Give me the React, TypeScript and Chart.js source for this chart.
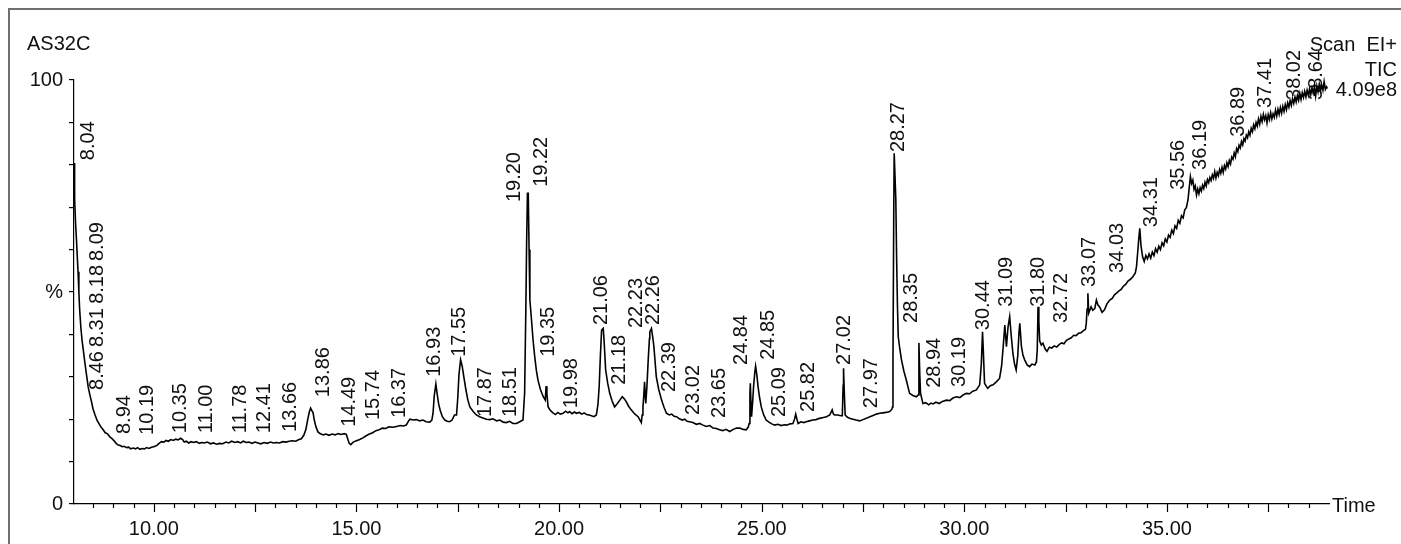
import { useEffect, useRef } from 'react';
import { Chart, registerables } from 'chart.js';

Chart.register(...registerables);

// Total ion chromatogram: [retention time (min), relative intensity (%)]
const traceEarly: [number, number][] = [
  [8.03, 80.4], [8.04, 80.4], [8.05, 72], [8.07, 66], [8.09, 62.5], [8.11, 58.5], [8.13, 54.8], [8.15, 50],
  [8.17, 45.8], [8.2, 41.5], [8.23, 38.5], [8.26, 36.3], [8.3, 33.2], [8.34, 30.4], [8.38, 27.6], [8.42, 25.8],
  [8.46, 24.2], [8.5, 22.4], [8.55, 21.0], [8.6, 19.7], [8.65, 18.9], [8.7, 18.1], [8.75, 17.5], [8.8, 16.8],
  [8.85, 16.6], [8.91, 15.9], [8.96, 15.5], [9.02, 14.9], [9.07, 14.3], [9.12, 13.9], [9.17, 13.8], [9.22, 13.5],
  [9.27, 13.6], [9.33, 13.3], [9.38, 13.4], [9.43, 13.0], [9.49, 13.2], [9.55, 13.0], [9.6, 13.3], [9.66, 12.9],
  [9.71, 13.1], [9.77, 13.0], [9.82, 13.3], [9.88, 13.1], [9.94, 13.4], [10.0, 13.5], [10.07, 13.8], [10.13, 14.3],
  [10.19, 14.7], [10.25, 14.6], [10.3, 15.0], [10.36, 14.8], [10.42, 15.2], [10.48, 15.0], [10.54, 15.3], [10.6, 15.1],
  [10.66, 15.5], [10.71, 15.2], [10.75, 14.6], [10.8, 14.8], [10.86, 14.4], [10.92, 14.7], [10.98, 14.5], [11.05, 14.7],
  [11.12, 14.3], [11.18, 14.5], [11.25, 14.4], [11.32, 14.6], [11.4, 14.2], [11.47, 14.4], [11.55, 14.1], [11.62, 14.3],
  [11.7, 14.2], [11.78, 14.6], [11.85, 14.4], [11.92, 14.8], [12.0, 14.5], [12.07, 14.7], [12.14, 14.4], [12.21, 14.8],
  [12.28, 14.5], [12.35, 14.6], [12.42, 14.3], [12.5, 14.6], [12.57, 14.4], [12.64, 14.2], [12.72, 14.5], [12.8, 14.3],
  [12.88, 14.6], [12.95, 14.4], [13.02, 14.5], [13.1, 14.4], [13.18, 14.7], [13.26, 14.6], [13.34, 14.8], [13.42, 14.9],
  [13.5, 14.8], [13.58, 15.2], [13.64, 15.4], [13.7, 16.2], [13.75, 17.5], [13.8, 20.0], [13.84, 21.8], [13.87, 22.6],
  [13.9, 22.0], [13.93, 21.5], [13.96, 19.8], [14.0, 18.2], [14.05, 17.0], [14.1, 16.6], [14.18, 16.3], [14.25, 16.5],
  [14.32, 16.2], [14.4, 16.5], [14.47, 16.3], [14.55, 16.6], [14.62, 16.4], [14.7, 16.6], [14.75, 16.4], [14.78, 15.5],
  [14.82, 14.3], [14.86, 14.0], [14.92, 14.6], [15.0, 14.9], [15.08, 15.2], [15.16, 15.6], [15.24, 16.1], [15.32, 16.5],
  [15.4, 16.8], [15.48, 17.3], [15.56, 17.5], [15.64, 17.9], [15.72, 17.8], [15.8, 18.2], [15.9, 18.1], [15.99, 18.3],
];

const traceMiddle: [number, number][] = [
  [16.08, 18.5], [16.16, 18.4], [16.23, 18.6], [16.28, 19.5], [16.32, 20.0], [16.4, 19.8], [16.48, 19.9], [16.56, 19.6],
  [16.64, 19.8], [16.72, 19.4], [16.81, 19.3], [16.86, 19.8], [16.89, 21.4], [16.92, 25.5], [16.96, 28.3], [16.99, 26.1],
  [17.03, 23.5], [17.07, 22.0], [17.12, 20.6], [17.18, 19.8], [17.24, 19.5], [17.3, 19.4], [17.36, 19.8], [17.42, 21.0],
  [17.47, 21.0], [17.5, 25.0], [17.53, 30.5], [17.57, 34.0], [17.61, 32.5], [17.65, 30.0], [17.7, 27.0], [17.75, 24.5],
  [17.8, 22.9], [17.88, 21.8], [17.96, 21.0], [18.04, 20.6], [18.12, 20.3], [18.21, 20.0], [18.29, 19.9], [18.37, 20.1],
  [18.46, 19.6], [18.54, 19.8], [18.62, 19.3], [18.7, 19.2], [18.78, 19.5], [18.86, 19.0], [18.95, 19.0], [19.03, 19.4],
  [19.11, 19.8], [19.15, 26.1], [19.18, 45.8], [19.2, 62], [19.22, 73.3], [19.24, 73.3], [19.26, 60], [19.28, 48.1],
  [19.32, 43.4], [19.36, 38.5], [19.4, 34.7], [19.44, 31.5], [19.48, 29.2], [19.54, 27.0], [19.61, 25.3], [19.66, 24.5],
  [19.68, 27.8], [19.7, 26.0], [19.73, 22.9], [19.79, 22.0], [19.85, 21.5], [19.91, 21.1], [19.97, 21.6], [20.03, 21.2],
  [20.1, 21.4], [20.16, 21.9], [20.22, 21.5], [20.26, 21.8], [20.32, 21.3], [20.38, 21.7], [20.43, 21.4], [20.5, 21.6],
  [20.56, 21.2], [20.62, 21.5], [20.68, 21.1], [20.74, 21.0], [20.8, 20.8], [20.86, 20.6], [20.92, 21.0], [20.96, 23.5],
  [20.99, 27.7], [21.02, 35.0], [21.05, 41.0], [21.09, 41.4], [21.11, 38.7], [21.15, 31.6], [21.2, 28.5], [21.25, 26.1],
  [21.31, 24.3], [21.37, 22.9], [21.43, 23.6], [21.5, 24.5], [21.56, 25.3], [21.61, 24.8], [21.66, 24.1], [21.72, 23.0],
  [21.78, 22.2], [21.86, 21.3], [21.95, 20.6], [22.03, 19.2], [22.05, 21.0], [22.07, 22.9], [22.09, 25.5], [22.11, 28.8],
  [22.13, 25.0], [22.14, 23.7], [22.17, 28.0], [22.2, 34.0], [22.23, 39.0], [22.24, 40.6], [22.28, 41.4], [22.31, 39.5],
  [22.34, 37.1], [22.4, 30.0], [22.46, 27.0], [22.53, 24.5], [22.59, 22.8], [22.65, 21.4], [22.72, 21.0], [22.78, 21.2],
  [22.84, 20.7], [22.9, 20.6], [22.97, 20.1],
];

const traceLate: [number, number][] = [
  [23.04, 19.8], [23.1, 20.0], [23.16, 19.5], [23.22, 19.4], [23.3, 19.2], [23.39, 18.8], [23.47, 19.0], [23.55, 18.6],
  [23.63, 18.3], [23.72, 18.5], [23.8, 17.9], [23.88, 17.8], [23.96, 17.5], [24.04, 17.3], [24.12, 17.6], [24.21, 17.1],
  [24.3, 17.6], [24.38, 17.9], [24.46, 17.9], [24.54, 17.6], [24.62, 17.5], [24.67, 18.2], [24.69, 19.0], [24.71, 26.0],
  [24.72, 28.5], [24.74, 22.5], [24.75, 20.6], [24.78, 24.5], [24.8, 27.7], [24.83, 31.0], [24.85, 32.5], [24.88, 30.5],
  [24.91, 27.7], [24.95, 25.0], [24.99, 22.9], [25.05, 21.0], [25.11, 19.8], [25.18, 19.3], [25.25, 18.9], [25.32, 18.6],
  [25.4, 18.8], [25.48, 18.5], [25.56, 18.7], [25.62, 18.6], [25.7, 18.9], [25.77, 19.0], [25.81, 20.0], [25.84, 21.2],
  [25.87, 20.0], [25.9, 19.0], [25.97, 19.4], [26.04, 19.2], [26.1, 19.4], [26.18, 19.6], [26.26, 19.8], [26.34, 19.9],
  [26.43, 20.2], [26.52, 20.4], [26.6, 20.6], [26.68, 21.0], [26.72, 21.8], [26.74, 22.2], [26.77, 21.2], [26.8, 21.0],
  [26.88, 21.0], [26.95, 20.8], [26.99, 20.8], [27.01, 28.0], [27.02, 32.0], [27.04, 26.0], [27.06, 21.0], [27.11, 20.5],
  [27.17, 20.2], [27.25, 20.0], [27.33, 19.8], [27.42, 19.6], [27.5, 19.9], [27.58, 20.2], [27.67, 20.6], [27.75, 20.9],
  [27.83, 21.2], [27.91, 21.4], [27.99, 21.5], [28.07, 21.6], [28.16, 21.8], [28.21, 22.3], [28.23, 22.9], [28.24, 33.2],
  [28.26, 70], [28.27, 82.7], [28.29, 82.7], [28.31, 72], [28.33, 58], [28.35, 47], [28.37, 39.5], [28.41, 36.5],
  [28.45, 34.0], [28.51, 31.3], [28.57, 29.2], [28.65, 26.1], [28.73, 25.6], [28.82, 25.3], [28.86, 25.7], [28.88, 38.0],
  [28.9, 31], [28.92, 26.1], [28.98, 23.7], [29.05, 23.9], [29.12, 23.4], [29.18, 23.8], [29.23, 23.6], [29.3, 24.0],
  [29.38, 23.7], [29.46, 24.2], [29.56, 24.5], [29.64, 24.4], [29.72, 25.0], [29.81, 25.3], [29.89, 25.1], [29.97, 25.7],
  [30.05, 26.1], [30.13, 26.0], [30.21, 26.6], [30.3, 26.9], [30.38, 28.1], [30.42, 33], [30.45, 40.6], [30.47, 36],
  [30.5, 28.5], [30.54, 27.8], [30.58, 27.3], [30.64, 27.9], [30.71, 28.1], [30.79, 28.8], [30.87, 29.6], [30.92, 32.5],
  [30.96, 37.1],
];

const traceRise: [number, number][] = [
  [31.0, 42.2], [31.04, 37.1], [31.08, 41.8], [31.12, 44.2], [31.16, 39.5], [31.2, 35.5], [31.24, 33.0], [31.28, 31.6],
  [31.32, 35.0], [31.35, 40.5], [31.37, 42.6], [31.41, 37.1], [31.45, 35.0], [31.49, 34.0], [31.55, 32.8], [31.61, 32.4],
  [31.67, 33.0], [31.74, 32.8], [31.78, 33.5], [31.8, 36.3], [31.82, 46.5], [31.84, 43.0], [31.86, 38.5], [31.9, 37.5],
  [31.94, 37.9], [32.0, 36.5], [32.04, 36.0], [32.1, 37.0], [32.16, 36.8], [32.22, 37.3], [32.28, 37.0], [32.34, 37.6],
  [32.4, 38.0], [32.46, 37.8], [32.52, 38.6], [32.58, 38.9], [32.64, 39.2], [32.7, 39.8], [32.76, 39.7], [32.82, 40.3],
  [32.88, 40.4], [32.94, 40.9], [32.99, 41.2], [33.01, 42.6], [33.03, 46.0], [33.05, 49.7], [33.07, 45.0], [33.09, 45.5],
  [33.13, 46.5], [33.17, 45.7], [33.22, 46.1], [33.26, 48.1], [33.3, 46.9], [33.34, 46.5], [33.4, 45.2], [33.46, 45.8],
  [33.52, 47.2], [33.59, 48.1], [33.65, 48.5], [33.71, 49.4], [33.75, 49.7], [33.81, 50.2], [33.87, 50.6], [33.92, 51.3],
  [33.98, 51.8], [34.04, 52.6], [34.1, 53.0], [34.16, 53.6], [34.22, 54.5], [34.25, 56.0], [34.28, 59.5], [34.31, 63.0],
  [34.33, 65.0], [34.36, 61.0], [34.4, 58.3], [34.44, 57.2], [34.48, 58.6], [34.52, 57.8], [34.56, 59.0], [34.6, 58.0],
  [34.64, 59.4], [34.68, 58.6], [34.72, 60.2], [34.76, 59.4], [34.8, 60.8], [34.84, 60.0], [34.88, 61.6], [34.92, 60.9],
  [34.96, 62.5], [35.0, 61.8], [35.04, 63.4], [35.08, 62.9], [35.12, 64.6], [35.16, 63.8], [35.2, 65.6], [35.24, 65.0],
  [35.28, 66.9], [35.32, 66.2], [35.36, 68.0], [35.4, 67.5], [35.44, 69.4], [35.48, 69.9], [35.52, 71.7], [35.55, 74.5],
  [35.58, 77.2], [35.61, 75.6], [35.64, 76.4], [35.67, 74.2], [35.7, 75.0], [35.73, 72.9], [35.76, 74.3], [35.79, 73.2],
  [35.82, 74.6], [35.85, 73.8], [35.88, 75.2], [35.91, 74.4], [35.94, 75.9], [35.97, 75.0], [36.0, 76.5], [36.03, 75.8],
  [36.06, 77.0], [36.09, 76.3], [36.12, 77.6], [36.15, 76.8], [36.18, 78.4], [36.21, 76.9], [36.24, 78.2], [36.27, 77.4],
  [36.3, 78.9], [36.33, 78.0], [36.36, 79.4], [36.39, 78.2], [36.42, 79.8], [36.45, 79.0], [36.48, 80.5], [36.51, 79.6],
  [36.54, 81.0], [36.57, 80.2], [36.6, 81.8], [36.63, 81.3], [36.66, 82.8], [36.69, 81.9], [36.72, 83.8], [36.75, 83.1],
  [36.78, 84.6], [36.81, 84.0], [36.84, 85.5], [36.87, 84.7], [36.9, 86.2], [36.93, 85.6], [36.96, 87.0], [36.99, 86.4],
  [37.02, 87.8], [37.05, 87.0], [37.08, 88.6], [37.11, 87.8], [37.14, 89.4], [37.17, 88.5], [37.2, 90.0], [37.23, 89.1],
  [37.26, 90.8], [37.29, 89.6], [37.32, 91.4], [37.35, 90.2], [37.38, 91.9], [37.41, 90.6], [37.44, 91.6], [37.47, 89.9],
  [37.5, 91.8], [37.53, 90.7], [37.56, 92.3], [37.59, 90.8], [37.62, 92.0], [37.65, 91.2], [37.68, 92.9], [37.71, 91.5],
  [37.74, 93.1], [37.77, 91.9], [37.8, 93.5], [37.83, 92.2], [37.86, 93.8], [37.89, 92.6], [37.92, 94.2], [37.95, 93.0],
  [37.98, 94.6], [38.01, 93.6], [38.04, 95.2], [38.07, 94.0], [38.1, 95.6], [38.13, 94.5], [38.16, 96.0], [38.19, 94.8],
  [38.22, 96.3], [38.25, 95.2], [38.28, 96.8], [38.31, 95.4], [38.34, 97.0], [38.37, 95.9], [38.4, 97.3], [38.43, 96.0],
  [38.46, 97.6], [38.49, 96.4], [38.52, 97.9], [38.55, 96.6], [38.58, 98.1], [38.61, 96.9], [38.64, 98.4], [38.67, 96.2],
  [38.7, 98.6], [38.73, 97.2], [38.76, 99.0], [38.79, 97.4], [38.82, 98.8], [38.85, 97.6], [38.88, 99.6], [38.91, 97.8],
  [38.94, 98.4], [38.96, 98.0],
];

// Peak annotations: text, time where the label sits, intensity level of the label's foot
const peakLabels = [
  '8.04', '8.09', '8.18', '8.31', '8.46', '8.94', '10.19', '10.35', '11.00', '11.78', '12.41', '13.66', '13.86',
  '14.49', '15.74', '16.37', '16.93', '17.55', '17.87', '18.51', '19.20', '19.22', '19.35', '19.98', '21.06',
  '21.18', '22.23', '22.26', '22.39', '23.02', '23.65', '24.84', '24.85', '25.09', '25.82', '27.02', '27.97',
  '28.27', '28.35', '28.94', '30.19', '30.44', '31.09', '31.80', '32.72', '33.07', '34.03', '34.31', '35.56',
  '36.19', '36.89', '37.41', '38.02', '38.64',
];
const peakLabelTime = [
  8.38, 8.61, 8.61, 8.61, 8.61, 9.28, 9.84, 10.65, 11.31, 12.15, 12.74, 13.37, 14.19,
  14.84, 15.43, 16.07, 16.93, 17.55, 18.19, 18.81, 18.91, 19.56, 19.73, 20.3, 21.04,
  21.5, 21.9, 22.32, 22.73, 23.32, 23.96, 24.5, 25.16, 25.45, 26.15, 27.05, 27.7,
  28.38, 28.69, 29.27, 29.89, 30.47, 31.05, 31.82, 32.39, 33.09, 33.77, 34.61, 35.28,
  35.84, 36.76, 37.44, 38.14, 38.68,
];
const peakLabelLevel = [
  81.1, 57.3, 47.2, 37.0, 26.9, 16.5, 16.3, 16.7, 16.7, 16.7, 16.7, 17.0, 25.2,
  18.2, 19.8, 20.3, 30.0, 34.7, 20.5, 20.5, 71.2, 74.8, 34.7, 22.6, 42.2,
  28.1, 41.5, 42.2, 26.4, 21.0, 20.3, 32.8, 34.0, 20.5, 21.7, 32.8, 22.6,
  83.0, 42.7, 27.4, 27.6, 41.0, 46.5, 46.5, 42.7, 51.2, 54.5, 65.3, 74.1,
  78.8, 86.6, 93.4, 95.3, 95.3,
];

const xTickValues = [10, 15, 20, 25, 30, 35];
const yTickValues = [0, 10, 20, 30, 40, 50, 60, 70, 80, 90, 100];
const yTickText: Record<number, string> = { 0: '0', 50: '%', 100: '100' };
const sampleName = 'AS32C';
const headerLines = ['Scan  EI+', 'TIC', '4.09e8'];
const xTitle = 'Time';

const FONT = '"Liberation Sans", Arial, sans-serif';
const INK = '#111111';

export default function App() {
  const ref = useRef<HTMLCanvasElement>(null);

  useEffect(() => {
    const canvas = ref.current;
    if (!canvas) return;
    const points = [...traceEarly, ...traceMiddle, ...traceLate, ...traceRise].map(([x, y]) => ({ x, y }));

    const decor = {
      id: 'decor',
      beforeDatasetsDraw(chart: any) {
        const { ctx, scales } = chart;
        const xs = scales.x;
        const ys = scales.y;
        ctx.save();
        ctx.font = `20px ${FONT}`;
        ctx.fillStyle = INK;
        ctx.textAlign = 'left';
        ctx.textBaseline = 'middle';
        peakLabels.forEach((txt, i) => {
          ctx.save();
          ctx.translate(xs.getPixelForValue(peakLabelTime[i]), ys.getPixelForValue(peakLabelLevel[i]));
          ctx.rotate(-Math.PI / 2);
          ctx.fillText(txt, 0, 0);
          ctx.restore();
        });
        ctx.restore();
      },
      afterDraw(chart: any) {
        const { ctx, scales, chartArea, width } = chart;
        const xs = scales.x;
        ctx.save();
        ctx.strokeStyle = '#000';
        ctx.lineWidth = 1.2;
        for (let k = 17; k <= 77; k++) {
          const v = k / 2;
          const px = Math.round(xs.getPixelForValue(v)) + 0.5;
          const len = k % 5 === 0 ? 8 : 4;
          ctx.beginPath();
          ctx.moveTo(px, chartArea.bottom);
          ctx.lineTo(px, chartArea.bottom + len);
          ctx.stroke();
        }
        ctx.font = `20px ${FONT}`;
        ctx.fillStyle = INK;
        ctx.textBaseline = 'middle';
        ctx.textAlign = 'left';
        ctx.fillText(xTitle, chartArea.right + 3, chartArea.bottom + 2);
        ctx.fillText(sampleName, 27, 44);
        ctx.textAlign = 'right';
        ctx.fillText(headerLines[0], width - 4, 45);
        ctx.fillText(headerLines[1], width - 4, 70);
        ctx.fillText(headerLines[2], width - 4, 90);
        ctx.restore();
      },
    };

    const chart = new Chart(canvas, {
      type: 'line',
      data: {
        datasets: [
          {
            data: points,
            borderColor: '#000',
            borderWidth: 1.6,
            pointRadius: 0,
            tension: 0,
            fill: false,
            clip: false as any,
          },
        ],
      },
      options: {
        animation: false,
        responsive: false,
        events: [],
        layout: { padding: { left: 0, top: 80, right: 72, bottom: 0 } },
        plugins: { legend: { display: false }, tooltip: { enabled: false } },
        scales: {
          x: {
            type: 'linear',
            min: 8.03,
            max: 39,
            afterBuildTicks: (s: any) => {
              s.ticks = xTickValues.map((value) => ({ value }));
            },
            afterFit: (s: any) => {
              s.height = 40;
            },
            grid: { display: true, drawOnChartArea: false, drawTicks: false, color: '#000' },
            border: { display: true, color: '#000', width: 1.2 },
            ticks: {
              autoSkip: false,
              maxRotation: 0,
              padding: 13,
              color: INK,
              font: { family: FONT, size: 20 },
              callback: (v: any) => Number(v).toFixed(2),
            },
          },
          y: {
            type: 'linear',
            min: 0,
            max: 100,
            afterBuildTicks: (s: any) => {
              s.ticks = yTickValues.map((value) => ({ value }));
            },
            afterFit: (s: any) => {
              s.width = 74;
            },
            grid: { display: true, drawOnChartArea: false, drawTicks: true, tickLength: 5, color: '#000', lineWidth: 1.2 },
            border: { display: true, color: '#000', width: 1.2 },
            ticks: {
              autoSkip: false,
              padding: 6,
              color: INK,
              font: { family: FONT, size: 20 },
              callback: (v: any) => yTickText[Number(v)] ?? '',
            },
          },
        },
      },
      plugins: [decor],
    });

    return () => chart.destroy();
  }, []);

  return (
    <>
      <div
        style={{
          position: 'fixed',
          left: 8,
          top: 8,
          width: 1393,
          height: 536,
          borderLeft: '2px solid #6f6f6f',
          borderTop: '2px solid #6f6f6f',
          boxSizing: 'border-box',
          pointerEvents: 'none',
        }}
      />
      <canvas
        ref={ref}
        width={1401}
        height={544}
        style={{ position: 'fixed', left: 0, top: 0, width: 1401, height: 544 }}
      />
    </>
  );
}
